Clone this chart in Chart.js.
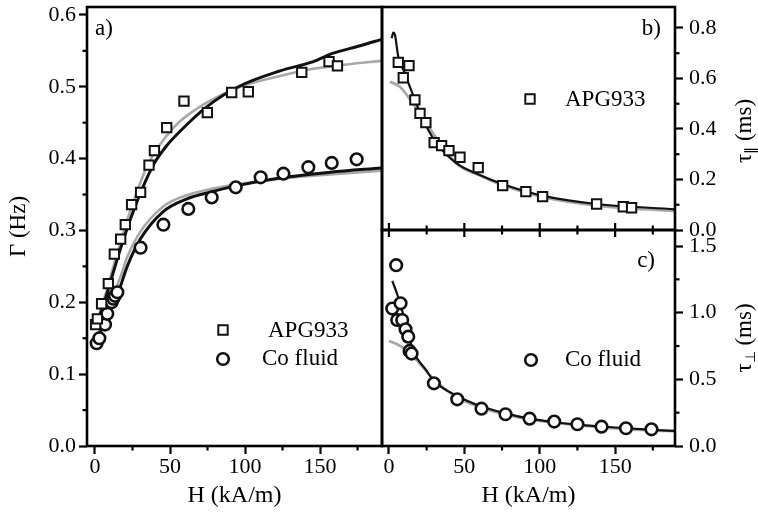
<!DOCTYPE html>
<html><head><meta charset="utf-8">
<script src="https://cdn.jsdelivr.net/npm/chart.js@4.4.1/dist/chart.umd.min.js"></script>
<style>
html,body{margin:0;padding:0;background:#fff;}
#wrap{position:relative;width:758px;height:518px;overflow:hidden;}
#wrap canvas{position:absolute;left:0;top:0;}
</style>
</head><body>
<div id="wrap">
<canvas id="ca" width="758" height="518"></canvas>
<canvas id="cb" width="758" height="518"></canvas>
<canvas id="cc" width="758" height="518"></canvas>
</div>
<script>
// ---------- tick values ----------
const hTicks = [0, 50, 100, 150];
const hMinor = [25, 75, 125, 175];
const gammaTicks = [0, 0.1, 0.2, 0.3, 0.4, 0.5, 0.6];
const gammaMinor = [0.05, 0.15, 0.25, 0.35, 0.45, 0.55];
const tauParTicks = [0, 0.2, 0.4, 0.6, 0.8];
const tauParMinor = [0.1, 0.3, 0.5, 0.7];
const tauPerpTicks = [0, 0.5, 1.0, 1.5];
const tauPerpMinor = [0.25, 0.75, 1.25];

// ---------- panel a) data: Gamma (Hz) vs H (kA/m) ----------
const apgH_a = [0.4, 1.6, 4.4, 8.9, 12.9, 17.1, 20.2, 24.4, 30.4, 36.0, 39.6, 47.8, 59.3, 74.9, 91.1, 102.2, 137.8, 156.0, 161.6];
const apgGamma = [0.169, 0.177, 0.198, 0.226, 0.267, 0.288, 0.308, 0.336, 0.353, 0.391, 0.411, 0.443, 0.480, 0.464, 0.492, 0.493, 0.520, 0.535, 0.529];
const coH_a = [1.1, 2.9, 6.7, 8.2, 11.1, 12.2, 13.3, 14.9, 30.4, 45.6, 62.2, 77.8, 93.8, 110.4, 125.6, 142.2, 157.8, 174.4];
const coGamma = [0.143, 0.150, 0.169, 0.184, 0.200, 0.205, 0.209, 0.214, 0.276, 0.308, 0.330, 0.346, 0.360, 0.374, 0.379, 0.388, 0.394, 0.399];

const apgFitBlackH = [3, 8, 12.4, 16.9, 21.3, 25.8, 31.3, 39.1, 47.8, 56.7, 74.4, 95.6, 123.3, 145.6, 157.8, 176.7, 191];
const apgFitBlackG = [0.180, 0.212, 0.243, 0.274, 0.302, 0.328, 0.357, 0.392, 0.418, 0.438, 0.472, 0.500, 0.522, 0.535, 0.546, 0.557, 0.566];
const apgFitGrayH = [3, 8, 12, 17, 22, 29, 36, 47.8, 56.7, 74.4, 95.6, 123.3, 145.6, 167.8, 191];
const apgFitGrayG = [0.185, 0.218, 0.248, 0.283, 0.318, 0.360, 0.395, 0.432, 0.452, 0.478, 0.499, 0.515, 0.525, 0.531, 0.536];
const coFitBlackH = [1.3, 5, 9, 13.6, 16.9, 21.3, 30.2, 45.3, 61.3, 78, 94, 123.3, 156.7, 191];
const coFitBlackG = [0.148, 0.165, 0.185, 0.205, 0.222, 0.249, 0.288, 0.326, 0.344, 0.354, 0.362, 0.373, 0.381, 0.387];
const coFitGrayH = [2, 9, 16.9, 21.3, 30.2, 45.3, 61.3, 94, 123.3, 156.7, 191];
const coFitGrayG = [0.155, 0.195, 0.235, 0.262, 0.298, 0.333, 0.349, 0.364, 0.372, 0.378, 0.383];

// ---------- panel b) data: tau_par (ms) vs H ----------
const apgH_b = [6.2, 13.3, 9.5, 17.2, 20.6, 24.5, 30.0, 34.9, 39.8, 47.1, 59.2, 75.4, 90.8, 101.9, 137.7, 155.4, 160.9];
const apgTauPar = [0.664, 0.651, 0.603, 0.515, 0.462, 0.425, 0.346, 0.334, 0.314, 0.288, 0.247, 0.176, 0.152, 0.132, 0.103, 0.092, 0.088];
const parFitBlackH = [1.8, 2.9, 4.0, 6.2, 10.6, 13.9, 22.7, 31.6, 44.9, 60.3, 75.8, 102.3, 137.7, 189.7];
const parFitBlackT = [0.759, 0.782, 0.772, 0.686, 0.620, 0.567, 0.436, 0.343, 0.264, 0.218, 0.181, 0.135, 0.103, 0.082];
const parFitGrayH = [0.7, 7.3, 12.8, 18.4, 27.2, 44.9, 60.3, 75.8, 102.3, 137.7, 189.7];
const parFitGrayT = [0.587, 0.567, 0.527, 0.480, 0.400, 0.262, 0.216, 0.176, 0.130, 0.097, 0.075];

// ---------- panel c) data: tau_perp (ms) vs H ----------
const coH_c = [4.8, 2.2, 7.7, 5.5, 8.8, 11.0, 12.8, 13.7, 15.0, 29.8, 45.3, 61.4, 77.3, 93.3, 109.6, 125.0, 141.0, 157.2, 174.1];
const coTauPerp = [1.356, 1.031, 1.070, 0.945, 0.945, 0.875, 0.820, 0.713, 0.693, 0.470, 0.350, 0.280, 0.238, 0.205, 0.183, 0.163, 0.145, 0.133, 0.125];
const perpFitBlackH = [2.2, 5.5, 9.9, 13.0, 16.6, 24.3, 29.8, 45.3, 61.4, 77.3, 93.3, 110, 125, 141, 157, 174, 189.7];
const perpFitBlackT = [1.238, 1.138, 0.970, 0.830, 0.700, 0.575, 0.488, 0.375, 0.296, 0.245, 0.205, 0.178, 0.160, 0.146, 0.133, 0.122, 0.113];
const perpFitGrayH = [0, 5.5, 12.1, 19.9, 29.8, 45.3, 61.4, 77.3, 93, 110, 141, 174, 189.7];
const perpFitGrayT = [0.788, 0.763, 0.713, 0.625, 0.500, 0.363, 0.288, 0.238, 0.200, 0.175, 0.140, 0.118, 0.112];

// ---------- helpers ----------
const FONT = "'Liberation Serif', 'Times New Roman', serif";
Chart.defaults.font.family = FONT;
Chart.defaults.color = '#000';
const GRAY = '#a8a8a8';

function pts(xs, ys) { return xs.map((x, i) => ({x: x, y: ys[i]})); }
function markers(xs, ys, style) {
  const sq = style === 'rect';
  return {data: pts(xs, ys), showLine: false, pointStyle: style,
    pointRadius: sq ? 6.6 : 5.8, pointHoverRadius: sq ? 6.6 : 5.8,
    pointBorderWidth: sq ? 2 : 2.6, pointBackgroundColor: '#fff', pointBorderColor: '#111', order: 0};
}
function curve(xs, ys, color, w, order) {
  return {data: pts(xs, ys), showLine: true, borderColor: color, borderWidth: w,
    pointRadius: 0, pointHoverRadius: 0, cubicInterpolationMode: 'monotone', fill: false, order: order};
}
function fixTicks(vals) { return s => { s.ticks = vals.map(v => ({value: v})); }; }
function fitW(w) { return s => { s.width = w; s.paddingTop = 0; s.paddingBottom = 0; s.paddingLeft = 0; s.paddingRight = 0; }; }
function fitH(h) { return s => { s.height = h; s.paddingTop = 0; s.paddingBottom = 0; s.paddingLeft = 0; s.paddingRight = 0; }; }
const tickGrid = {display: true, drawOnChartArea: false, drawTicks: true, tickLength: 8, tickWidth: 2.2, tickColor: '#000', color: '#000'};

const deco = {
  id: 'deco',
  afterDatasetsDraw(chart, args, o) {
    const ctx = chart.ctx, a = chart.chartArea;
    ctx.save();
    ctx.strokeStyle = '#000';
    ctx.lineWidth = 2.2;
    (o.marks || []).forEach(m => {
      const s = chart.scales[m.axis];
      m.values.forEach(v => {
        const p = s.getPixelForValue(v);
        ctx.beginPath();
        if (m.edge === 'left') { ctx.moveTo(a.left - m.out, p); ctx.lineTo(a.left + m.inn, p); }
        if (m.edge === 'right') { ctx.moveTo(a.right - m.inn, p); ctx.lineTo(a.right + m.out, p); }
        if (m.edge === 'bottom') { ctx.moveTo(p, a.bottom - m.inn); ctx.lineTo(p, a.bottom + m.out); }
        if (m.edge === 'top') { ctx.moveTo(p, a.top - m.out); ctx.lineTo(p, a.top + m.inn); }
        ctx.stroke();
      });
    });
    ctx.lineWidth = 2.6;
    ctx.strokeRect(a.left, a.top, a.right - a.left, a.bottom - a.top);
    (o.legend || []).forEach(l => {
      ctx.fillStyle = '#fff';
      ctx.strokeStyle = '#111';
      ctx.beginPath();
      if (l.style === 'rect') { ctx.lineWidth = 2; ctx.rect(l.x - 4.7, l.y - 4.7, 9.4, 9.4); }
      else { ctx.lineWidth = 2.6; ctx.arc(l.x, l.y, 5.8, 0, Math.PI * 2); }
      ctx.fill(); ctx.stroke();
    });
    ctx.fillStyle = '#000';
    (o.texts || []).forEach(t => {
      ctx.font = (t.size || 23) + 'px ' + FONT;
      ctx.textAlign = t.align || 'left';
      ctx.textBaseline = 'middle';
      ctx.fillText(t.text, t.x, t.y);
    });
    (o.rtitle || []).forEach(t => {
      ctx.save();
      ctx.translate(t.x, t.y);
      ctx.rotate(-Math.PI / 2);
      ctx.textBaseline = 'middle';
      ctx.textAlign = 'left';
      const big = '23px ' + FONT, small = '14px ' + FONT;
      ctx.font = big; const w1 = ctx.measureText(t.main).width;
      ctx.font = small; const w2 = ctx.measureText(t.sub).width;
      ctx.font = big; const w3 = ctx.measureText(t.rest).width;
      let x = -(w1 + w2 + w3) / 2;
      ctx.font = big; ctx.fillText(t.main, x, 0); x += w1;
      ctx.font = small; ctx.fillText(t.sub, x, 6); x += w2;
      ctx.font = big; ctx.fillText(t.rest, x, 0);
      ctx.restore();
    });
    ctx.restore();
  }
};

const base = { type: 'scatter', plugins: [deco] };
function commonOpts(padding) {
  return {
    responsive: false, animation: false, events: [],
    layout: {padding: padding, autoPadding: false},
    plugins: {legend: {display: false}, tooltip: {enabled: false}}
  };
}

// ---------- Chart a ----------
const optA = commonOpts({left: 0, top: 7, right: 376, bottom: 0});
optA.scales = {
  x: {type: 'linear', position: 'bottom', min: -5.33, max: 191.3,
    afterBuildTicks: fixTicks(hTicks), afterFit: fitH(72),
    ticks: {font: {size: 22}, padding: 0, autoSkip: false, maxRotation: 0, callback: v => String(v)},
    grid: tickGrid, border: {display: false},
    title: {display: true, text: 'H (kA/m)', font: {size: 24}, padding: {top: 0, bottom: 8}}},
  y: {type: 'linear', position: 'left', min: 0, max: 0.611,
    afterBuildTicks: fixTicks(gammaTicks), afterFit: fitW(87),
    ticks: {font: {size: 22}, padding: 3, callback: v => v.toFixed(1)},
    grid: tickGrid, border: {display: false},
    title: {display: true, text: 'Γ (Hz)', font: {size: 23}, padding: {top: 5, bottom: 0}}}
};
optA.plugins.deco = {
  marks: [{axis: 'x', edge: 'bottom', values: hMinor, out: 4.5, inn: 0},
          {axis: 'y', edge: 'left', values: gammaMinor, out: 4.5, inn: 0}],
  legend: [{style: 'rect', x: 223, y: 330}, {style: 'circle', x: 223, y: 359}],
  texts: [{text: 'a)', x: 95, y: 29}, {text: 'APG933', x: 268, y: 331}, {text: 'Co fluid', x: 262, y: 359}]
};
new Chart(document.getElementById('ca'), Object.assign({}, base, {
  data: {datasets: [
    markers(apgH_a, apgGamma, 'rect'),
    markers(coH_a, coGamma, 'circle'),
    curve(apgFitBlackH, apgFitBlackG, '#111', 3, 1),
    curve(coFitBlackH, coFitBlackG, '#111', 3, 1),
    curve(apgFitGrayH, apgFitGrayG, GRAY, 2.6, 2),
    curve(coFitGrayH, coFitGrayG, GRAY, 2.6, 2)
  ]},
  options: optA
}));

// ---------- Chart b ----------
const optB = commonOpts({left: 382, top: 7, right: 0, bottom: 288});
optB.scales = {
  x: {type: 'linear', display: false, min: -4.6, max: 189.7},
  y: {type: 'linear', position: 'right', min: 0, max: 0.883,
    afterBuildTicks: fixTicks(tauParTicks), afterFit: fitW(83),
    ticks: {font: {size: 22}, padding: 6, callback: v => v.toFixed(1)},
    grid: tickGrid, border: {display: false}}
};
optB.plugins.deco = {
  marks: [{axis: 'y', edge: 'right', values: tauParMinor, out: 4.5, inn: 0}],
  legend: [{style: 'rect', x: 530, y: 99}],
  texts: [{text: 'b)', x: 661, y: 29, align: 'right'}, {text: 'APG933', x: 565, y: 100}],
  rtitle: [{x: 745, y: 131, main: 'τ', sub: '∥', rest: ' (ms)'}]
};
new Chart(document.getElementById('cb'), Object.assign({}, base, {
  data: {datasets: [
    markers(apgH_b, apgTauPar, 'rect'),
    curve(parFitBlackH, parFitBlackT, '#111', 2.2, 1),
    curve(parFitGrayH, parFitGrayT, GRAY, 2.8, 2)
  ]},
  options: optB
}));

// ---------- Chart c ----------
const optC = commonOpts({left: 382, top: 230, right: 0, bottom: 0});
optC.scales = {
  x: {type: 'linear', position: 'bottom', min: -4.6, max: 189.7,
    afterBuildTicks: fixTicks(hTicks), afterFit: fitH(72),
    ticks: {font: {size: 22}, padding: 0, autoSkip: false, maxRotation: 0, callback: v => String(v)},
    grid: tickGrid, border: {display: false},
    title: {display: true, text: 'H (kA/m)', font: {size: 24}, padding: {top: 0, bottom: 8}}},
  y: {type: 'linear', position: 'right', min: 0, max: 1.62,
    afterBuildTicks: fixTicks(tauPerpTicks), afterFit: fitW(83),
    ticks: {font: {size: 22}, padding: 6, callback: v => v.toFixed(1)},
    grid: tickGrid, border: {display: false}}
};
optC.plugins.deco = {
  marks: [{axis: 'x', edge: 'bottom', values: hMinor, out: 4.5, inn: 0},
          {axis: 'x', edge: 'top', values: hTicks, out: 7, inn: 7},
          {axis: 'x', edge: 'top', values: hMinor, out: 4.5, inn: 4.5},
          {axis: 'y', edge: 'right', values: tauPerpMinor, out: 4.5, inn: 0}],
  legend: [{style: 'circle', x: 531, y: 360}],
  texts: [{text: 'c)', x: 655, y: 261, align: 'right'}, {text: 'Co fluid', x: 565, y: 360}],
  rtitle: [{x: 745, y: 338, main: 'τ', sub: '⊥', rest: ' (ms)'}]
};
new Chart(document.getElementById('cc'), Object.assign({}, base, {
  data: {datasets: [
    markers(coH_c, coTauPerp, 'circle'),
    curve(perpFitBlackH, perpFitBlackT, '#111', 2.2, 1),
    curve(perpFitGrayH, perpFitGrayT, GRAY, 2.8, 2)
  ]},
  options: optC
}));
</script>
</body></html>
